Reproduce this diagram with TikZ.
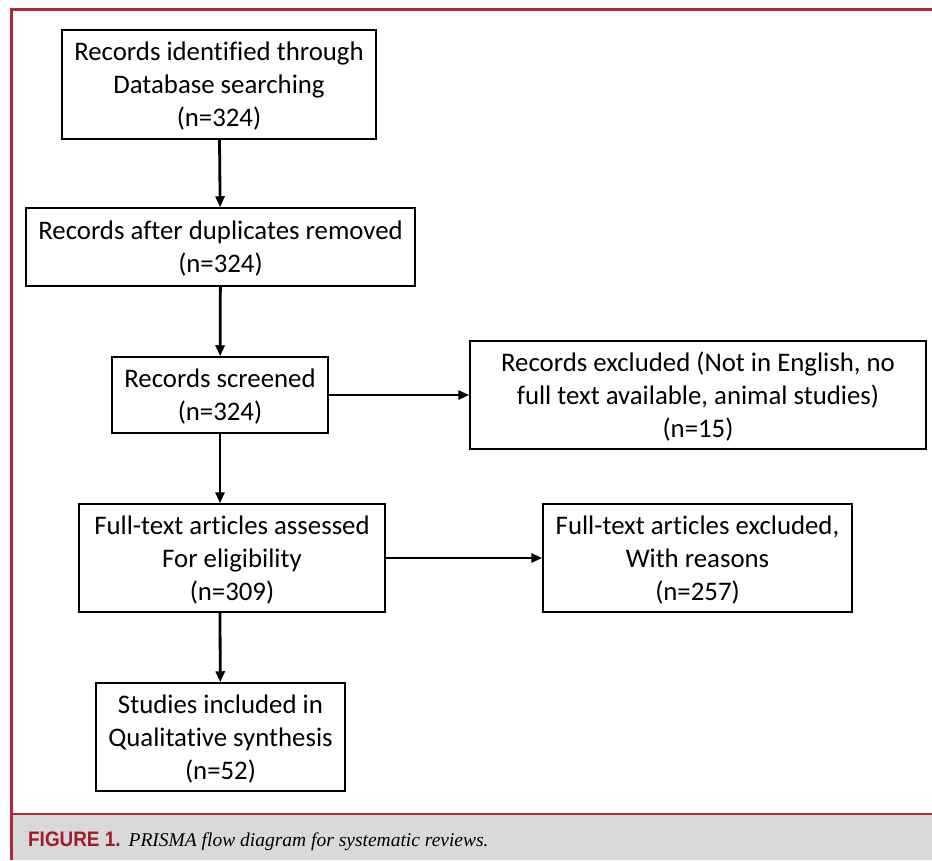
\documentclass[tikz,border=0pt]{standalone}
\usepackage{fontspec}
\setmainfont{Carlito}[Ligatures=NoCommon]
\newfontfamily\capsans{Liberation Sans}
\newfontfamily\capserif{Liberation Serif}
\usetikzlibrary{arrows.meta,positioning}
\definecolor{framered}{RGB}{178,40,52}
\definecolor{capred}{RGB}{160,28,38}
\definecolor{capgray}{RGB}{217,217,217}
\tikzset{x=1pt,y=-1pt,
    stage/.style={draw,line width=1.5pt,align=center,inner sep=0pt,text depth=0pt,
        font=\fontsize{26.8}{33}\selectfont},
    flow/.style={line width=2.8pt,-{Triangle[length=11pt,width=9pt]}},
    }

\begin{document}
\begin{tikzpicture}
\useasboundingbox (0,0) rectangle (932,860);
% frame and caption band
\fill[capgray] (11,814) rectangle (932,860);
\draw[framered,line width=3pt] (932,9) -- (11,9) -- (11,860);
\draw[framered,line width=2pt] (11,814) -- (932,814);
\node[anchor=base west,inner sep=0pt] (cap) at (28,846)
    {\textcolor{capred}{\capsans\bfseries\fontsize{21}{24}\selectfont\scalebox{0.9}[1]{FIGURE 1.}}%
    \hspace{8pt}{\capserif\itshape\fontsize{19.5}{24}\selectfont PRISMA flow diagram for systematic reviews.}};
% boxes
\node[stage,minimum width=314pt,minimum height=109pt] (ident) at (219,84.5)
    {Records identified through\\Database searching\\(n=324)};
\node[stage,minimum width=389pt,minimum height=78pt] (dupl) at (220.5,247)
    {Records after duplicates removed\\(n=324)};
\node[stage,minimum width=216pt,minimum height=76pt] (screen) at (220,395)
    {Records screened\\(n=324)};
\node[stage,minimum width=456pt,minimum height=108pt] (recex) at (698,395)
    {Records excluded (Not in English, no\\full text available, animal studies)\\(n=15)};
\node[stage,minimum width=306pt,minimum height=108pt] (full) at (232,558)
    {Full-text articles assessed\\For eligibility\\(n=309)};
\node[stage,minimum width=309pt,minimum height=108pt] (fullex) at (697.5,558)
    {Full-text articles excluded,\\With reasons\\(n=257)};
\node[stage,minimum width=249pt,minimum height=108pt] (incl) at (220.5,737)
    {Studies included in\\Qualitative synthesis\\(n=52)};
% arrows
\draw[flow] (ident) -- (dupl);
\draw[flow] (dupl) -- (screen);
\draw[flow] (screen) -- (screen |- full.north);
\draw[flow] (full.south -| screen) -- (incl);
\draw[flow] (screen) -- (recex);
\draw[flow] (full) -- (fullex);
\end{tikzpicture}
\end{document}
